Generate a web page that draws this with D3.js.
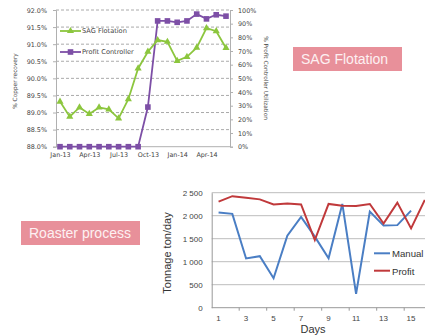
<!DOCTYPE html>
<html><head><meta charset="utf-8">
<script src="https://cdn.jsdelivr.net/npm/d3@7"></script>
<style>html,body{margin:0;padding:0;background:#fff;overflow:hidden}svg{display:block}</style>
</head><body>
<script>
// ---- Top chart data ----
const months = ["Jan-13","Feb-13","Mar-13","Apr-13","May-13","Jun-13","Jul-13","Aug-13","Sep-13","Oct-13","Nov-13","Dec-13","Jan-14","Feb-14","Mar-14","Apr-14","May-14","Jun-14"];
const monthTickLabels = ["Jan-13","Apr-13","Jul-13","Oct-13","Jan-14","Apr-14"];
const sagRecovery = [89.32,88.88,89.15,88.96,89.15,89.09,88.83,89.39,90.29,90.78,91.12,91.07,90.51,90.63,90.90,91.47,91.38,90.89];
const profitUtil = [0,0,0,0,0,0,0,0,0,29,92,92,91,92,97,93.5,96.5,95.5];
const leftTicks = [88.0,88.5,89.0,89.5,90.0,90.5,91.0,91.5,92.0];
const rightTicks = [0,10,20,30,40,50,60,70,80,90,100];
// ---- Bottom chart data ----
const days = [1,2,3,4,5,6,7,8,9,10,11,12,13,14,15,16];
const manualTonnage = [2070,2040,1070,1120,640,1565,1975,1545,1075,2255,300,2090,1785,1795,2110,null];
const profitTonnage = [2305,2425,2390,2355,2245,2265,2245,1470,2255,2215,2210,2255,1830,2285,1725,2345];
const tonnageTicks = [0,500,1000,1500,2000,2500];

const W = 425, H = 335;
const svg = d3.select("body").append("svg").attr("width", W).attr("height", H);

// ================= TOP CHART =================
const tx = d3.scalePoint().domain(months).range([60, 226]);
const tyL = d3.scaleLinear().domain([88, 92]).range([146.7, 10]);
const tyR = d3.scaleLinear().domain([0, 100]).range([146.7, 10]);
const topG = svg.append("g");
const tickFont = "DejaVu Sans, Verdana, sans-serif";

// gridlines
topG.append("g").selectAll("line").data(leftTicks.slice(1)).join("line")
  .attr("x1", 56).attr("x2", 230).attr("y1", d => tyL(d)).attr("y2", d => tyL(d))
  .attr("stroke", "#a0a0a0").attr("stroke-width", 0.9).attr("stroke-dasharray", "3,2");

// left axis
const axL = d3.axisLeft(tyL).tickValues(leftTicks).tickFormat(d => d.toFixed(1) + "%").tickSize(3).tickPadding(6);
const gL = topG.append("g").attr("transform", "translate(56,0)").call(axL);
gL.select(".domain").attr("stroke", "#b0b0b0");
gL.selectAll(".tick line").attr("stroke", "#b0b0b0");
gL.selectAll("text").attr("font-family", tickFont).attr("font-size", 6.4).attr("fill", "#444");

// right axis
const axR = d3.axisRight(tyR).tickValues(rightTicks).tickFormat(d => d + "%").tickSize(3).tickPadding(5);
const gR = topG.append("g").attr("transform", "translate(230,0)").call(axR);
gR.select(".domain").attr("stroke", "#b0b0b0");
gR.selectAll(".tick line").attr("stroke", "#b0b0b0");
gR.selectAll("text").attr("font-family", tickFont).attr("font-size", 6.4).attr("fill", "#444");

// bottom axis
const axB = d3.axisBottom(tx).tickValues(monthTickLabels).tickSize(0).tickPadding(6);
const gB = topG.append("g").attr("transform", "translate(0,146.7)").call(axB);
gB.select(".domain").attr("d", "M56,0H230").attr("stroke", "#b0b0b0");
gB.selectAll("text").attr("font-family", tickFont).attr("font-size", 6.4).attr("fill", "#444");

// axis titles
topG.append("text").attr("transform", "translate(17,81) rotate(-90)").attr("text-anchor", "middle")
  .attr("font-family", tickFont).attr("font-size", 5.8).attr("fill", "#444").text("% Copper recovery");
topG.append("text").attr("transform", "translate(264,78) rotate(90)").attr("text-anchor", "middle")
  .attr("font-family", tickFont).attr("font-size", 5.8).attr("fill", "#444").text("% Profit Controller Utilization");

const green = "#8cc63e", purple = "#7d4fa6";
// lines
topG.append("path").datum(profitUtil)
  .attr("d", d3.line().x((d, i) => tx(months[i])).y(d => tyR(d)))
  .attr("fill", "none").attr("stroke", purple).attr("stroke-width", 1.8);
topG.append("path").datum(sagRecovery)
  .attr("d", d3.line().x((d, i) => tx(months[i])).y(d => tyL(d)))
  .attr("fill", "none").attr("stroke", green).attr("stroke-width", 1.8);
// markers
topG.append("g").selectAll("rect").data(profitUtil).join("rect")
  .attr("x", (d, i) => tx(months[i]) - 2.8).attr("y", d => tyR(d) - 2.8)
  .attr("width", 5.6).attr("height", 5.6).attr("fill", purple);
const tri = d3.symbol().type(d3.symbolTriangle).size(22);
topG.append("g").selectAll("path").data(sagRecovery).join("path")
  .attr("transform", (d, i) => `translate(${tx(months[i])},${tyL(d)})`)
  .attr("d", tri).attr("fill", green);

// legend
const lg = topG.append("g");
lg.append("line").attr("x1", 60).attr("x2", 81).attr("y1", 31).attr("y2", 31).attr("stroke", green).attr("stroke-width", 1.8);
lg.append("path").attr("transform", "translate(70.5,31)").attr("d", tri).attr("fill", green);
lg.append("text").attr("x", 82).attr("y", 33.3).attr("font-family", tickFont).attr("font-size", 6.6).attr("fill", "#444").text("SAG Flotation");
lg.append("line").attr("x1", 60).attr("x2", 81).attr("y1", 52).attr("y2", 52).attr("stroke", purple).attr("stroke-width", 1.8);
lg.append("rect").attr("x", 67.7).attr("y", 49.2).attr("width", 5.6).attr("height", 5.6).attr("fill", purple);
lg.append("text").attr("x", 82).attr("y", 54.3).attr("font-family", tickFont).attr("font-size", 6.6).attr("fill", "#444").text("Profit Controller");

// ================= LABEL BOXES =================
const pink = "#e8909a";
function labelBox(x, y, w, h, txt) {
  svg.append("rect").attr("x", x).attr("y", y).attr("width", w).attr("height", h).attr("fill", pink);
  svg.append("text").attr("x", x + 8).attr("y", y + h / 2 + 5).attr("font-family", "Liberation Sans, Arial, sans-serif")
    .attr("font-size", 14).attr("fill", "#fdf0f2").text(txt);
}
labelBox(293, 47, 109, 24, "SAG Flotation");
labelBox(21, 221, 119, 24, "Roaster process");

// ================= BOTTOM CHART =================
const bx = d3.scaleBand().domain(days).range([211.7, 211.7 + 16 * 13.75]);
const by = d3.scaleLinear().domain([0, 2500]).range([307.7, 192.7]);
const bot = svg.append("g");
const bFont = "Liberation Sans, Arial, sans-serif";

bot.append("g").selectAll("line").data(tonnageTicks.slice(1)).join("line")
  .attr("x1", 211.7).attr("x2", W).attr("y1", d => by(d)).attr("y2", d => by(d))
  .attr("stroke", "#bdbdbd").attr("stroke-width", 1);

const fmt = d => d >= 1000 ? Math.floor(d / 1000) + " " + String(d % 1000).padStart(3, "0") : String(d);
const byAx = d3.axisLeft(by).tickValues(tonnageTicks).tickFormat(fmt).tickSize(0).tickPadding(9);
const gy = bot.append("g").attr("transform", "translate(211.7,0)").call(byAx);
gy.select(".domain").attr("stroke", "#999");
gy.selectAll("text").attr("font-family", bFont).attr("font-size", 8).attr("fill", "#444");

const bxAx = d3.axisBottom(bx).tickValues(days.filter(d => d % 2 === 1)).tickSize(0).tickPadding(8);
const gx = bot.append("g").attr("transform", "translate(0,307.7)").call(bxAx);
gx.select(".domain").attr("d", `M211.7,0H${W}`).attr("stroke", "#999");
gx.selectAll("text").attr("font-family", bFont).attr("font-size", 8).attr("fill", "#444");
// category boundary ticks every two days
gx.append("g").selectAll("line").data(days.filter(d => d % 2 === 0)).join("line")
  .attr("x1", d => bx(d) + bx.bandwidth()).attr("x2", d => bx(d) + bx.bandwidth())
  .attr("y1", 0).attr("y2", 3).attr("stroke", "#999");

bot.append("text").attr("transform", "translate(171,253) rotate(-90)").attr("text-anchor", "middle")
  .attr("font-family", bFont).attr("font-size", 11).attr("fill", "#333").text("Tonnage ton/day");
bot.append("text").attr("x", 313).attr("y", 333).attr("text-anchor", "middle")
  .attr("font-family", bFont).attr("font-size", 11).attr("fill", "#333").text("Days");

const blue = "#4a7ec4", red = "#c0393b";
const lineB = d3.line().defined(d => d.v != null).x(d => bx(d.d) + bx.bandwidth() / 2).y(d => by(d.v));
bot.append("path").datum(days.map((d, i) => ({d, v: manualTonnage[i]})))
  .attr("d", lineB).attr("fill", "none").attr("stroke", blue).attr("stroke-width", 2);
bot.append("path").datum(days.map((d, i) => ({d, v: profitTonnage[i]})))
  .attr("d", lineB).attr("fill", "none").attr("stroke", red).attr("stroke-width", 2);

// legend
bot.append("rect").attr("x", 370).attr("y", 244).attr("width", 60).attr("height", 34).attr("fill", "#fff");
bot.append("line").attr("x1", 374).attr("x2", 390).attr("y1", 253.3).attr("y2", 253.3).attr("stroke", blue).attr("stroke-width", 2);
bot.append("text").attr("x", 392).attr("y", 257).attr("font-family", bFont).attr("font-size", 9.6).attr("fill", "#333").text("Manual");
bot.append("line").attr("x1", 374).attr("x2", 390).attr("y1", 270.7).attr("y2", 270.7).attr("stroke", red).attr("stroke-width", 2);
bot.append("text").attr("x", 392).attr("y", 274.5).attr("font-family", bFont).attr("font-size", 9.6).attr("fill", "#333").text("Profit");
</script>
</body></html>
